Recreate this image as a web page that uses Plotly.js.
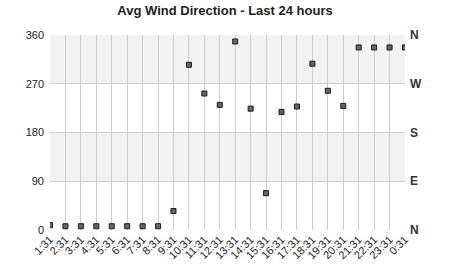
<!DOCTYPE html>
<html>
<head>
<meta charset="utf-8">
<script src="https://cdn.plot.ly/plotly-3.0.1.min.js"></script>
<style>html,body{margin:0;padding:0;background:#fff;}#chart{width:450px;height:280px;}</style>
</head>
<body>
<div id="chart"></div>
<script>
var hours = ["1:31","2:31","3:31","4:31","5:31","6:31","7:31","8:31","9:31","10:31","11:31","12:31","13:31","14:31","15:31","16:31","17:31","18:31","19:31","20:31","21:31","22:31","23:31","0:31"];
var direction = [9,7,7,7,7,7,7,7,35,305,252,231,348,224,68,218,228,307,257,229,337,337,337,337];
var degTicks = [0,90,180,270,360];
var compassLabels = ["N","E","S","W","N"];
var bands = [[90,180],[270,360]];

var traces = [{
  x: hours, y: direction, type: 'scatter', mode: 'markers',
  marker: {symbol: 'square', size: 5, color: '#666666', line: {color: '#1a1a1a', width: 1}},
  cliponaxis: true, hoverinfo: 'none'
},{
  x: hours, y: direction, type: 'scatter', mode: 'markers', yaxis: 'y2',
  marker: {opacity: 0}, hoverinfo: 'none', showlegend: false
}];

var shapes = bands.map(function(b){
  return {type: 'rect', xref: 'paper', yref: 'y', x0: 0, x1: 1, y0: b[0], y1: b[1],
    fillcolor: '#f2f2f2', line: {width: 0}, layer: 'below'};
});

var layout = {
  width: 450, height: 280,
  margin: {l: 50, r: 45, t: 35, b: 50},
  paper_bgcolor: '#ffffff', plot_bgcolor: '#ffffff',
  showlegend: false,
  font: {family: 'Liberation Sans, Arial, sans-serif', color: '#222', size: 11},
  title: {text: '<b>Avg Wind Direction - Last 24 hours</b>', x: 0.5, xref: 'container', xanchor: 'center', y: 0.962, yref: 'container', yanchor: 'middle', font: {size: 13, color: '#222'}},
  shapes: shapes,
  xaxis: {
    type: 'category', range: [0, 23], tickangle: -45, showgrid: true, gridcolor: '#cccccc', gridwidth: 1,
    zeroline: false, showline: false, ticks: '', tickfont: {size: 11, color: '#222'}, fixedrange: true
  },
  yaxis: {
    range: [0, 360], tickvals: degTicks, ticktext: degTicks.map(String), showgrid: true, gridcolor: '#cccccc',
    zeroline: false, showline: false, ticks: '', tickfont: {size: 11, color: '#222'}, ticklabelstandoff: 5
  },
  yaxis2: {
    overlaying: 'y', side: 'right', range: [0, 360], tickvals: degTicks, ticktext: compassLabels.map(function(s){return '<b>'+s+'</b>';}),
    showgrid: false, zeroline: false, showline: false, ticks: '', tickfont: {size: 12, color: '#333'}, ticklabelstandoff: 4
  }
};

Plotly.newPlot('chart', traces, layout, {staticPlot: true, displayModeBar: false});
</script>
</body>
</html>
